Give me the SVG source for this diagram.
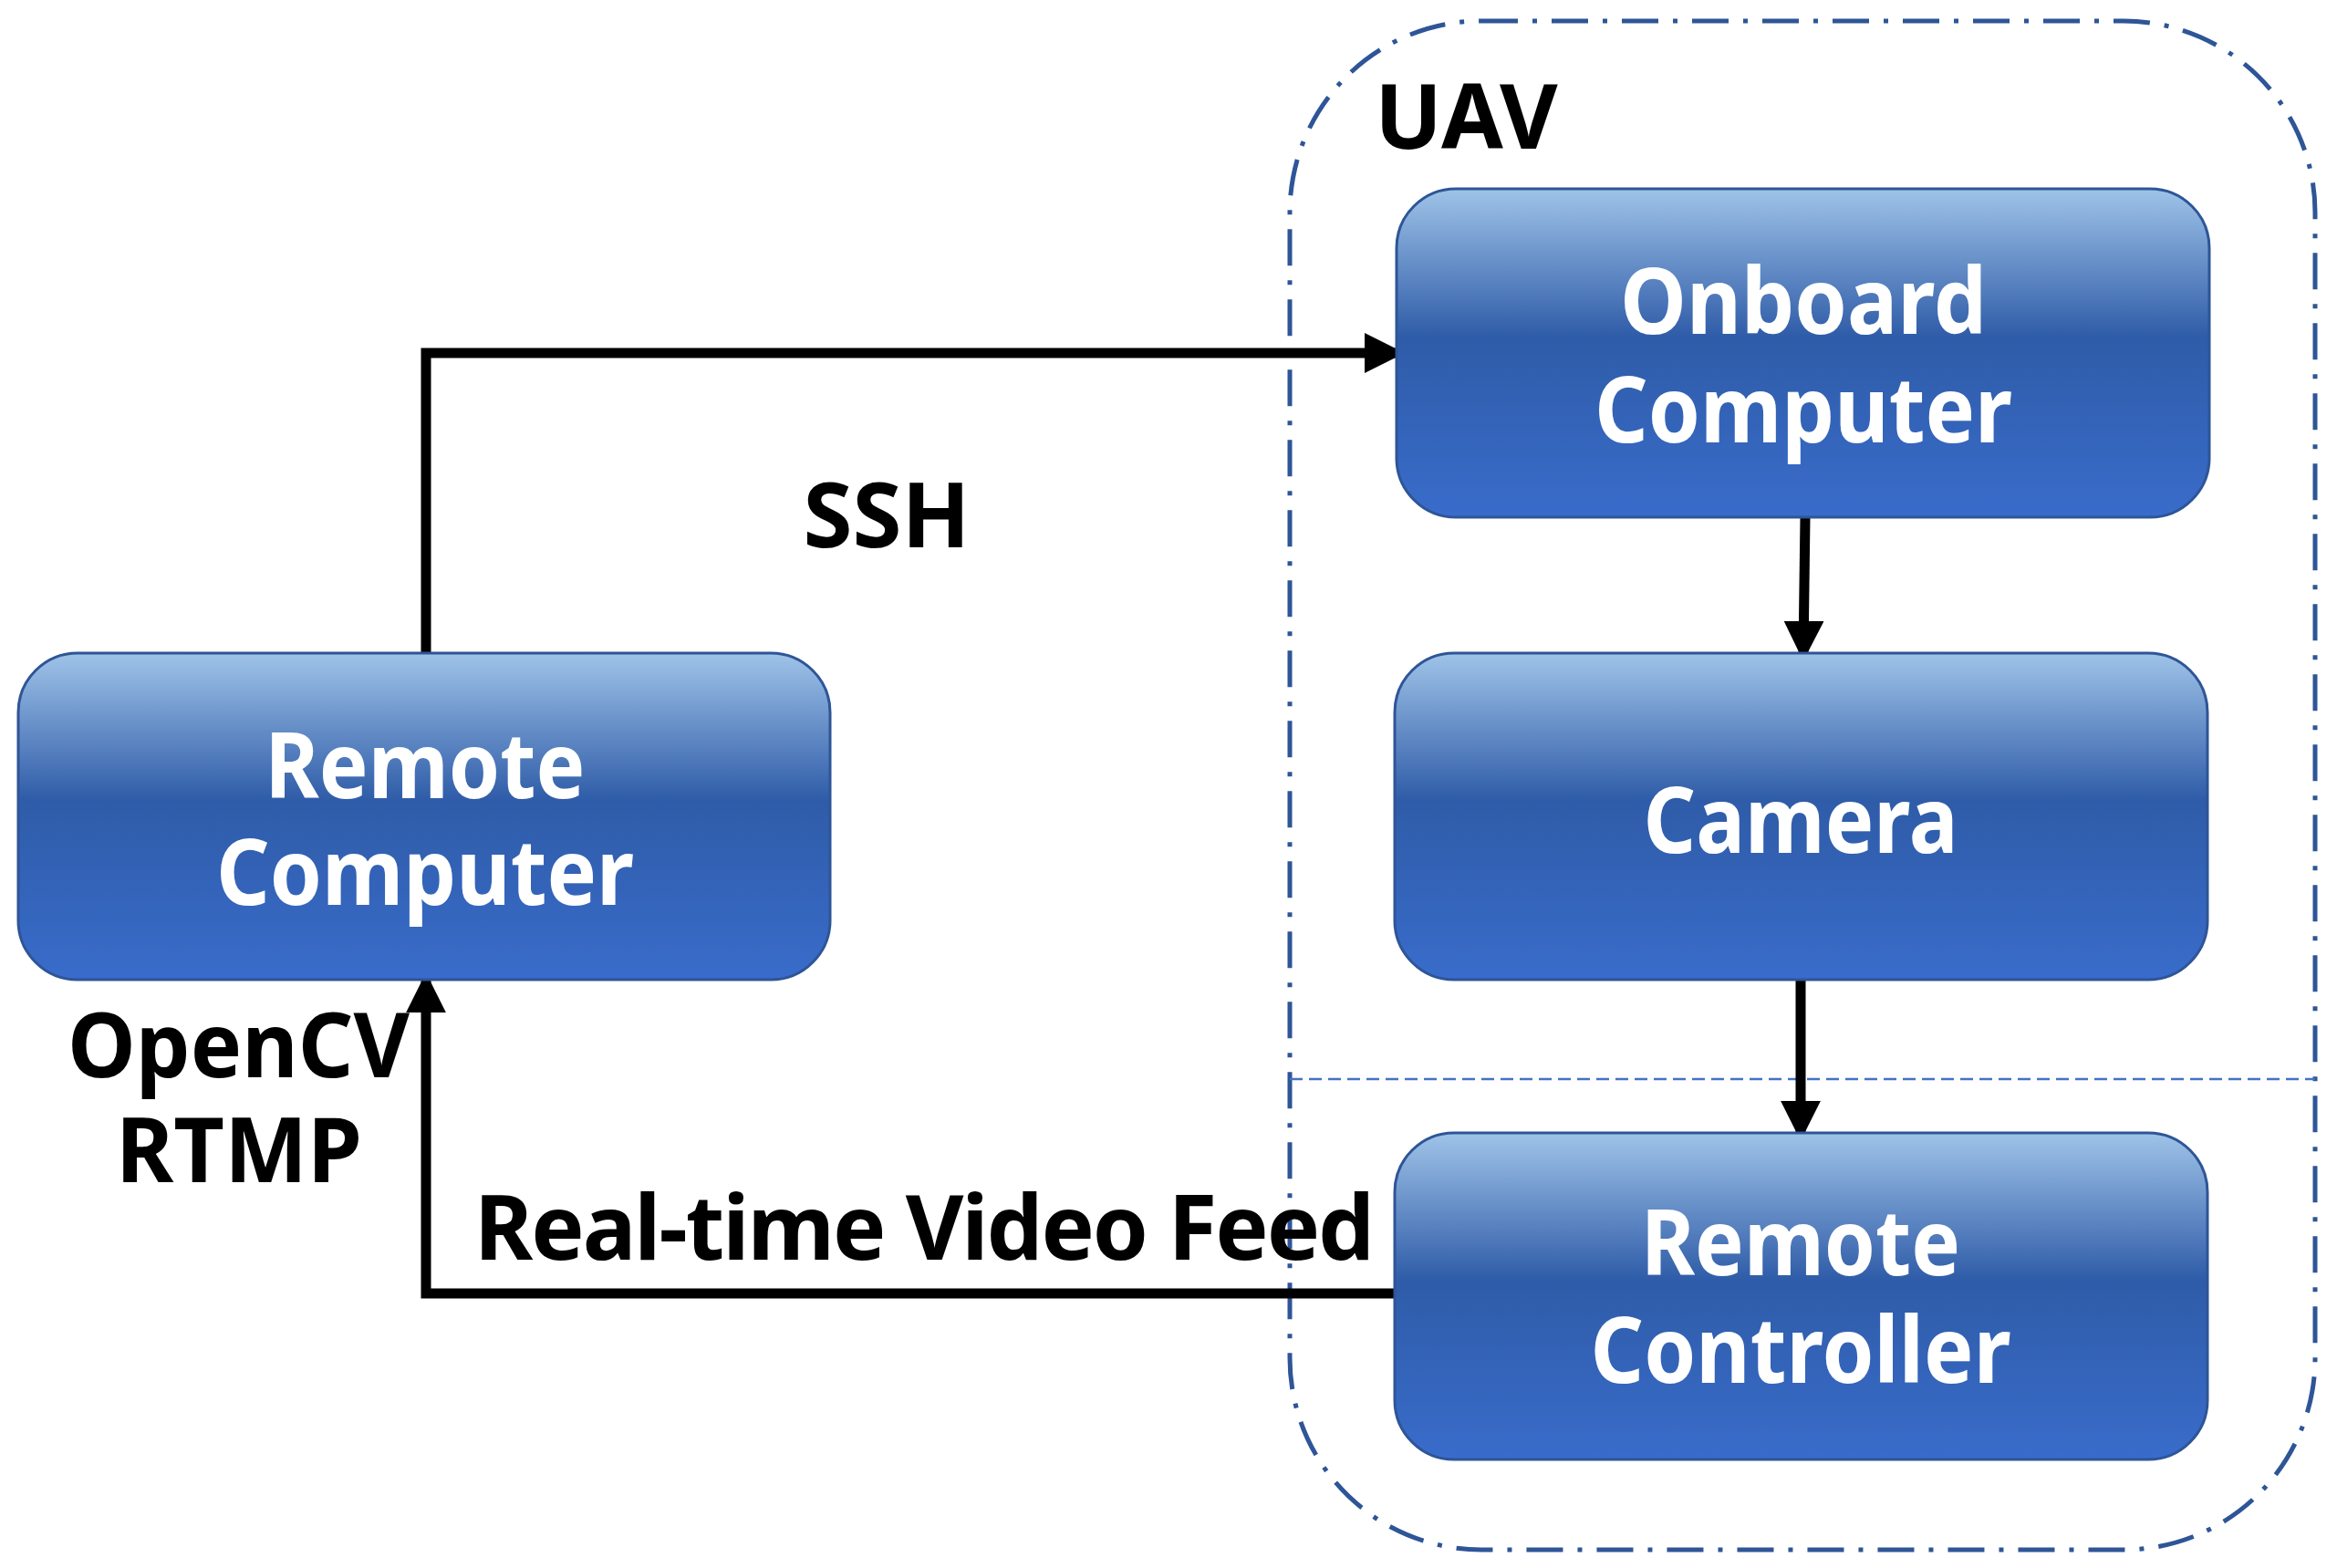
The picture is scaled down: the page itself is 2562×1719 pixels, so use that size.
<svg xmlns="http://www.w3.org/2000/svg" width="2562" height="1719" viewBox="0 0 2562 1719">
<defs>
<linearGradient id="g" x1="0" y1="0" x2="0" y2="1">
<stop offset="0" stop-color="#9fc3e8"/>
<stop offset="0.45" stop-color="#2f5ca8"/>
<stop offset="1" stop-color="#396ccb"/>
</linearGradient>
<marker id="ah" markerWidth="4" markerHeight="4" refX="3.2" refY="2" orient="auto" markerUnits="strokeWidth">
<path d="M0,0 L4,2 L0,4 Z" fill="#000"/>
</marker>
<style>
.box{fill:url(#g);stroke:#2e5597;stroke-width:3}
.bt{font-family:"Noto Sans","Open Sans",sans-serif;font-weight:bold;font-size:100px;fill:#fff;text-anchor:middle}
.lt{font-family:"Noto Sans","Open Sans",sans-serif;font-weight:bold;font-size:98px;fill:#000}
.c{fill:none;stroke:#000;stroke-width:11;marker-end:url(#ah)}
</style>
</defs>
<rect width="2562" height="1719" fill="#fff"/>
<g id="uav">
<rect x="1414" y="23" width="1124" height="1676" rx="210" fill="none" stroke="#2e5597" stroke-width="5" stroke-dasharray="40,16,5,16"/>
<line x1="1414" y1="1183" x2="2538" y2="1183" stroke="#4472c4" stroke-width="2.5" stroke-dasharray="14,7"/>
<text class="lt" x="1507" y="163">UAV</text>
</g>
<g id="connectors">
<polyline class="c" points="467,716 467,387 1531,387"/>
<line class="c" x1="1979" y1="567" x2="1977" y2="716"/>
<line class="c" x1="1974" y1="1074" x2="1974" y2="1242"/>
<polyline class="c" points="1529,1418 467,1418 467,1075"/>
<text class="lt" x="972" y="600" text-anchor="middle">SSH</text>
<text class="lt" x="74" y="1181" textLength="375" lengthAdjust="spacingAndGlyphs">OpenCV</text>
<text class="lt" x="127" y="1296" textLength="270" lengthAdjust="spacingAndGlyphs">RTMP</text>
<text class="lt" x="520" y="1381" textLength="987">Real-time Video Feed</text>
</g>
<g id="remote-computer">
<rect class="box" x="20" y="716" width="890" height="358" rx="65"/>
<text class="bt" x="466" y="875" textLength="351" lengthAdjust="spacingAndGlyphs">Remote</text>
<text class="bt" x="466" y="992" textLength="458" lengthAdjust="spacingAndGlyphs">Computer</text>
</g>
<g id="onboard-computer">
<rect class="box" x="1531" y="207" width="891" height="360" rx="65"/>
<text class="bt" x="1977" y="366" textLength="402" lengthAdjust="spacingAndGlyphs">Onboard</text>
<text class="bt" x="1977" y="485" textLength="458" lengthAdjust="spacingAndGlyphs">Computer</text>
</g>
<g id="camera">
<rect class="box" x="1529" y="716" width="891" height="358" rx="65"/>
<text class="bt" x="1974" y="935" textLength="345" lengthAdjust="spacingAndGlyphs">Camera</text>
</g>
<g id="remote-controller">
<rect class="box" x="1529" y="1242" width="891" height="358" rx="65"/>
<text class="bt" x="1974" y="1398" textLength="350" lengthAdjust="spacingAndGlyphs">Remote</text>
<text class="bt" x="1974" y="1516" textLength="461" lengthAdjust="spacingAndGlyphs">Controller</text>
</g>
</svg>
